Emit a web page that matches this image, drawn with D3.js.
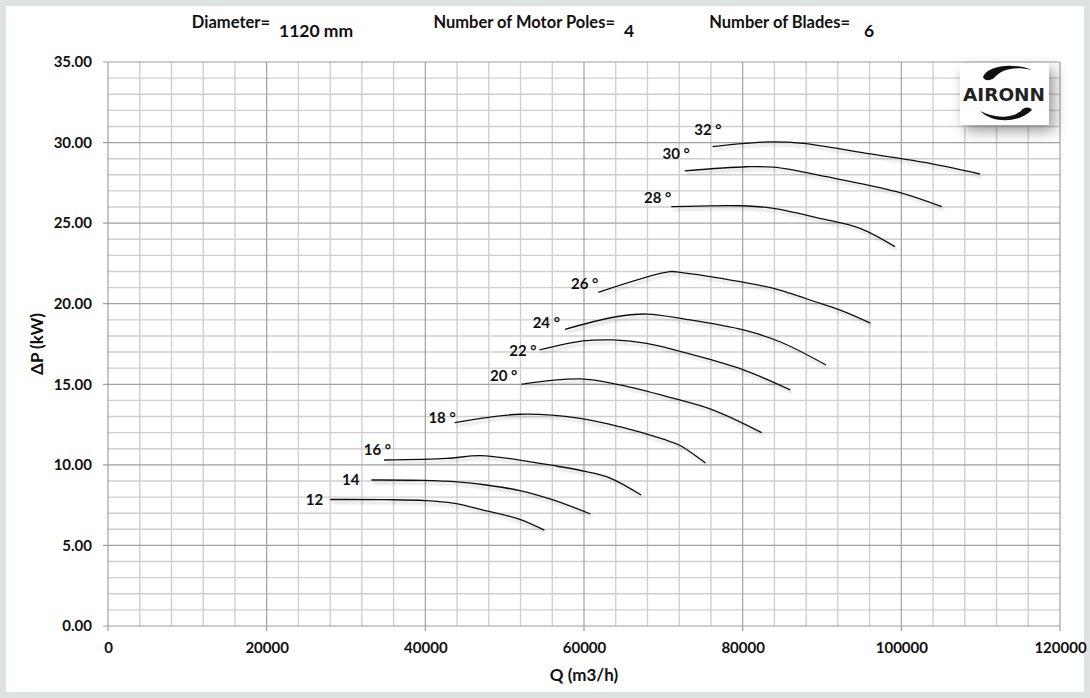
<!DOCTYPE html>
<html><head><meta charset="utf-8">
<script src="https://cdn.jsdelivr.net/npm/d3@7"></script>
<style>
html,body{margin:0;padding:0;background:#dce3e0;}
svg{display:block;}
text{font-family:Lato,"Open Sans",sans-serif;}
</style></head>
<body>
<svg id="chart" width="1090" height="698"></svg>
<script>
// ---- data ----
const xTicks = [0, 20000, 40000, 60000, 80000, 100000, 120000];
const yTicks = [0, 5, 10, 15, 20, 25, 30, 35];
const angleLabels = ["12", "14", "16 °", "18 °", "20 °", "22 °", "24 °", "26 °", "28 °", "30 °", "32 °"];
const curve12 = [[28000,7.85],[35000,7.84],[40000,7.78],[43500,7.62],[47700,7.15],[51900,6.62],[55000,5.95]];
const curve14 = [[33200,9.06],[39700,9.04],[44000,8.95],[47700,8.75],[51900,8.40],[56100,7.82],[60800,6.95]];
const curve16 = [[34800,10.30],[42700,10.40],[46900,10.57],[51900,10.30],[56500,9.93],[60300,9.58],[63300,9.18],[67200,8.13]];
const curve18 = [[43700,12.62],[51900,13.14],[59500,12.89],[64500,12.37],[70000,11.59],[72100,11.20],[75300,10.12]];
const curve20 = [[52100,15.00],[59500,15.33],[64500,14.96],[70800,14.19],[76300,13.40],[82400,12.00]];
const curve22 = [[54400,17.13],[59900,17.69],[63700,17.75],[67900,17.54],[73800,16.82],[80100,15.89],[86000,14.65]];
const curve24 = [[57600,18.41],[63700,19.16],[67900,19.36],[72900,19.03],[80100,18.37],[84700,17.64],[90500,16.20]];
const curve26 = [[61800,20.71],[70800,21.99],[72100,21.95],[79700,21.37],[83900,20.95],[89700,20.03],[92300,19.60],[96100,18.80]];
const curve28 = [[71000,26.02],[79700,26.08],[83900,25.92],[89700,25.30],[94800,24.68],[99200,23.54]];
const curve30 = [[72700,28.24],[80500,28.50],[83900,28.47],[90600,27.88],[99400,26.95],[105100,26.02]];
const curve32 = [[76200,29.75],[83400,30.04],[87600,29.95],[95600,29.33],[103600,28.71],[109900,28.05]];
const curves = [curve12, curve14, curve16, curve18, curve20, curve22, curve24, curve26, curve28, curve30, curve32];
const headerLabels = ["Diameter=", "Number of Motor Poles=", "Number of Blades="];
const headerValues = ["1120 mm", "4", "6"];

// ---- layout / style ----
const W = 1090, H = 698;
const m = {left:108, top:62, right:30, bottom:72};
// label offsets (px) relative to each curve's first point: [dx of text end, dy of baseline]
const labelOffsets = [[-7,5],[-12,5],[7,-5],[1,0],[-4,-3],[-3,6],[-5,-1],[0,-3],[0,-4],[5,-12],[9,-12]];
const headerLabelEnd = [270, 615, 850];
const headerValueStart = [279, 624, 864];

const svg = d3.select("#chart");
const defs = svg.append("defs");
const f = defs.append("filter").attr("id","sh").attr("x","-5%").attr("y","-50%").attr("width","110%").attr("height","200%");
f.append("feDropShadow").attr("dx",2).attr("dy",3).attr("stdDeviation",1.6).attr("flood-color","#000").attr("flood-opacity",0.22);
const f2 = defs.append("filter").attr("id","lsh").attr("x","-30%").attr("y","-30%").attr("width","170%").attr("height","180%");
f2.append("feDropShadow").attr("dx",5).attr("dy",6).attr("stdDeviation",7).attr("flood-color","#000").attr("flood-opacity",0.4);

svg.append("rect").attr("x",6).attr("y",6).attr("width",W-12).attr("height",H-12).attr("fill","#fff");

const x = d3.scaleLinear().domain([0,120000]).range([m.left, W-m.right]);
const y = d3.scaleLinear().domain([0,35]).range([H-m.bottom, m.top]);

const g = svg.append("g");
const minorX = d3.range(0, 120001, 4000).filter(v => v % 20000 !== 0);
const minorY = d3.range(0, 35.01, 1).filter(v => v % 5 !== 0);
g.selectAll(".mx").data(minorX).join("line")
  .attr("x1",d=>x(d)).attr("x2",d=>x(d)).attr("y1",y(0)).attr("y2",y(35))
  .attr("stroke","#cfcfcf").attr("stroke-width",1.4);
g.selectAll(".my").data(minorY).join("line")
  .attr("x1",x(0)).attr("x2",x(120000)).attr("y1",d=>y(d)).attr("y2",d=>y(d))
  .attr("stroke","#cfcfcf").attr("stroke-width",1.4);
g.selectAll(".Mx").data(xTicks).join("line")
  .attr("x1",d=>x(d)).attr("x2",d=>x(d)).attr("y1",y(0)+5).attr("y2",y(35))
  .attr("stroke","#a0a0a0").attr("stroke-width",1.2);
g.selectAll(".My").data(yTicks).join("line")
  .attr("x1",x(0)-5).attr("x2",x(120000)).attr("y1",d=>y(d)).attr("y2",d=>y(d))
  .attr("stroke","#a0a0a0").attr("stroke-width",1.2);

const yAxis = svg.append("g").attr("transform",`translate(${m.left},0)`)
  .call(d3.axisLeft(y).tickValues(yTicks).tickFormat(d3.format(".2f")).tickSize(0).tickPadding(16));
const xAxis = svg.append("g").attr("transform",`translate(0,${H-m.bottom})`)
  .call(d3.axisBottom(x).tickValues(xTicks).tickFormat(d3.format("d")).tickSize(0).tickPadding(16));
[xAxis,yAxis].forEach(a=>{
  a.select(".domain").remove();
  a.selectAll("text").attr("font-size",15).attr("font-weight","bold").attr("fill","#111")
    .style("font-family","Lato, 'Open Sans', sans-serif");
});

svg.append("text").attr("x",(x(0)+x(120000))/2).attr("y",681).attr("text-anchor","middle")
  .attr("font-size",17).attr("font-weight","bold").attr("fill","#111").text("Q (m3/h)");
svg.append("text").attr("transform",`translate(43,${(y(0)+y(35))/2}) rotate(-90)`).attr("text-anchor","middle")
  .attr("font-size",17).attr("font-weight","bold").attr("fill","#111").text("ΔP (kW)");

headerLabels.forEach((t,i)=>{
  svg.append("text").attr("x",headerLabelEnd[i]).attr("y",28).attr("text-anchor","end")
    .attr("font-size",16.5).attr("font-weight","bold").attr("fill","#111").text(t);
  svg.append("text").attr("x",headerValueStart[i]).attr("y",37)
    .attr("font-size",17.5).attr("font-weight","bold").attr("fill","#111").text(headerValues[i]);
});

const line = d3.line().x(d=>x(d[0])).y(d=>y(d[1])).curve(d3.curveCatmullRom.alpha(0.5));
const cg = svg.append("g");
cg.selectAll("path").data(curves).join("path")
  .attr("d",line).attr("fill","none").attr("stroke","#111").attr("stroke-width",1.3)
  .attr("filter","url(#sh)");
cg.selectAll("text").data(curves).join("text")
  .attr("x",(d,i)=> x(d[0][0]) + labelOffsets[i][0])
  .attr("y",(d,i)=> y(d[0][1]) + labelOffsets[i][1])
  .attr("text-anchor","end").attr("font-size",15).attr("font-weight","bold").attr("fill","#111")
  .text((d,i)=>angleLabels[i]);

// logo
const lg = svg.append("g");
lg.append("rect").attr("x",960).attr("y",63).attr("width",89).attr("height",62).attr("fill","#fff").attr("filter","url(#lsh)");
lg.append("rect").attr("x",960).attr("y",63).attr("width",89).attr("height",62).attr("fill","#fff");
lg.append("path").attr("d","M983,77 C987,66 1012,62 1032,70 C1014,66 1002,69 994,78 C990,81 984,81 983,77 Z").attr("fill","#111");
lg.append("path").attr("d","M980,111 C992,123 1018,124 1032,110 C1030,106 1023,107 1021,111 C1010,119 995,118 980,111 Z").attr("fill","#111");
lg.append("text").attr("x",1004).attr("y",101).attr("text-anchor","middle").attr("font-size",18)
  .attr("font-weight","bold").attr("fill","#222").style("font-family","'DejaVu Sans', sans-serif")
  .attr("textLength",82).attr("lengthAdjust","spacingAndGlyphs").text("AIRONN");
</script>
</body></html>
